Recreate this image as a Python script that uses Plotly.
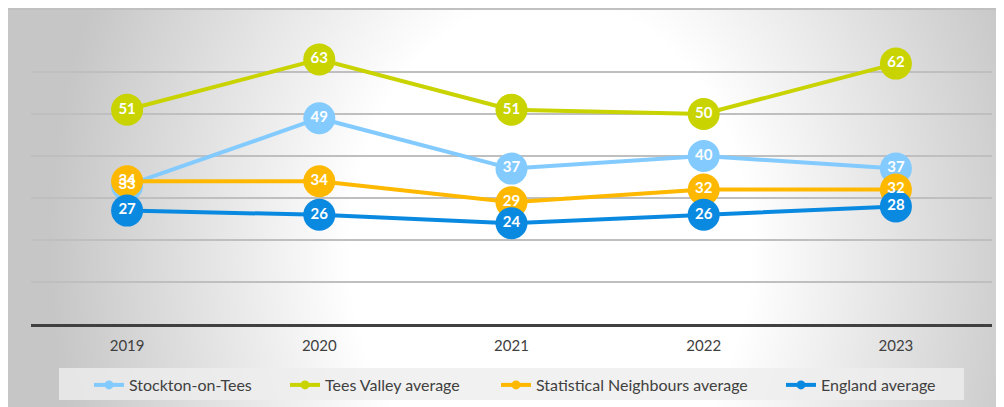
import base64
import plotly.graph_objects as go

years = ["2019", "2020", "2021", "2022", "2023"]
stockton = [33, 49, 37, 40, 37]
tees_valley = [51, 63, 51, 50, 62]
stat_neighbours = [34, 34, 29, 32, 32]
england = [27, 26, 24, 26, 28]

series_names = ["Stockton-on-Tees", "Tees Valley average",
                "Statistical Neighbours average", "England average"]
series_values = [stockton, tees_valley, stat_neighbours, england]
series_colors = ["#83CBFF", "#C8D300", "#FFB800", "#0A89E1"]

# page body has an 8px margin, so the figure starts at (8, 8) of the window
OFF = 8
W, H = 996, 399
ML, MR, MT, MB = 23, 12, 22, 83
PW, PH = W - ML - MR, H - MT - MB


def px_x(xw):
    return (xw - OFF - ML) / PW


def px_y(yw):
    return (H - MB - (yw - OFF)) / PH


fig = go.Figure()

for name, vals, col in zip(series_names, series_values, series_colors):
    fig.add_trace(go.Scatter(
        x=years, y=vals, mode="lines+markers", name=name,
        line=dict(color=col, width=4),
        marker=dict(size=32, color=col, line=dict(width=0)),
        showlegend=False, hoverinfo="skip"))

for name, vals in zip(series_names, series_values):
    fig.add_trace(go.Scatter(
        x=years, y=vals, mode="text", text=[str(v) for v in vals],
        textposition="middle center",
        textfont=dict(family="Lato", size=15, color="white", weight="bold"),
        showlegend=False, hoverinfo="skip"))

legend_ids = ["legend", "legend2", "legend3", "legend4"]
text_starts = [131, 327, 538, 823]
for name, col, lid in zip(series_names, series_colors, legend_ids):
    fig.add_trace(go.Scatter(
        x=[None], y=[None], mode="lines+markers", name=name,
        line=dict(color=col, width=4), legend=lid,
        marker=dict(size=9, color=col), hoverinfo="skip"))

cx, cy = 542, 242
svg = ('<svg xmlns="http://www.w3.org/2000/svg" width="%d" height="%d" '
       'viewBox="0 0 %d %d" preserveAspectRatio="none"><defs>'
       '<radialGradient id="g" gradientUnits="userSpaceOnUse" cx="%d" cy="%d" r="500" '
       'gradientTransform="translate(%d %d) scale(1 1.25) translate(%d %d)">'
       '<stop offset="0" stop-color="#ffffff"/>'
       '<stop offset="0.4" stop-color="#ffffff"/>'
       '<stop offset="1" stop-color="#c6c6c6"/>'
       '</radialGradient></defs>'
       '<rect width="%d" height="%d" fill="url(#g)"/></svg>'
       % (W, H, W, H, cx, cy, cx, cy, -cx, -cy, W, H))
src = "data:image/svg+xml;base64," + base64.b64encode(svg.encode()).decode()

fig.add_layout_image(dict(
    source=src, xref="paper", yref="paper",
    x=-ML / PW, y=1 + MT / PH, sizex=W / PW, sizey=H / PH,
    xanchor="left", yanchor="top", sizing="stretch", layer="below"))

layout_legends = {}
for lid, ts in zip(legend_ids, text_starts):
    layout_legends[lid] = dict(
        orientation="h", x=px_x(ts - 42), xanchor="left",
        y=px_y(385), yanchor="middle", bgcolor="rgba(0,0,0,0)",
        font=dict(family="Lato", size=16, color="#404040"))

fig.update_layout(
    width=W, height=H,
    margin=dict(l=ML, r=MR, t=MT, b=MB, autoexpand=False),
    paper_bgcolor="white", plot_bgcolor="rgba(0,0,0,0)",
    showlegend=True,
    shapes=[
        dict(type="line", xref="paper", yref="paper",
             x0=-ML / PW, x1=1 + MR / PW, y0=1 + MT / PH - 0.003, y1=1 + MT / PH - 0.003,
             line=dict(color="#c0c0c0", width=2), layer="below"),
        dict(type="rect", xref="paper", yref="paper",
             x0=px_x(59), x1=px_x(964), y0=px_y(400), y1=px_y(368),
             line=dict(width=0), fillcolor="rgba(238,238,238,0.8)",
             layer="below"),
    ],
    xaxis=dict(type="category", range=[-0.5, 4.5], showgrid=False,
               showline=True, linecolor="#404040", linewidth=3,
               ticks="", ticklabelstandoff=6,
               tickfont=dict(family="Lato", size=15, color="#404040"),
               zeroline=False, fixedrange=True),
    yaxis=dict(range=[0, 70], dtick=10, showgrid=True, gridcolor="#bfbfbf",
               gridwidth=1.5, showticklabels=False, zeroline=False,
               showline=False, fixedrange=True),
    **layout_legends,
)

fig.write_html("out.html")
